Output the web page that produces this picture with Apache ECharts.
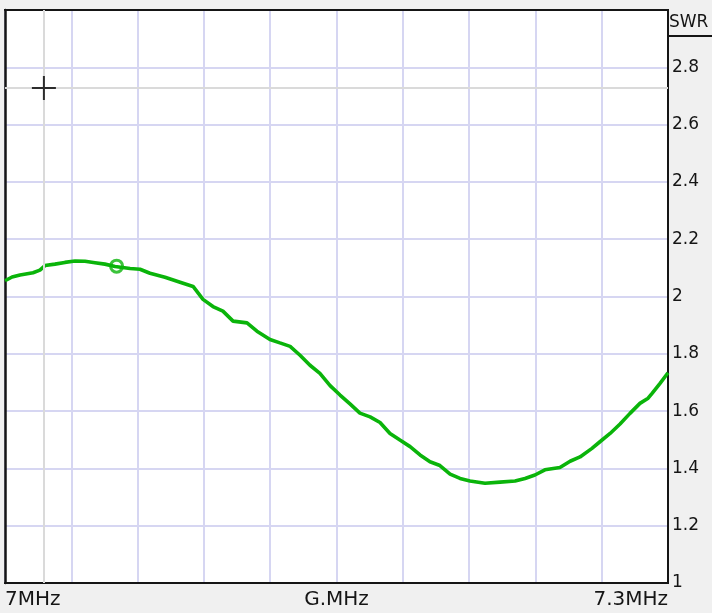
<!DOCTYPE html>
<html>
<head>
<meta charset="utf-8">
<script src="https://cdn.jsdelivr.net/npm/echarts@6/dist/echarts.min.js"></script>
<style>
  html, body { margin: 0; padding: 0; background: #f0f0f0; }
  #chart { width: 712px; height: 613px; }
</style>
</head>
<body>
<div id="chart"></div>
<script>
// SWR sweep across the 40 m band (frequency in MHz, SWR ratio)
const freqMHz = [
  7.0000, 7.0032, 7.0068, 7.0127, 7.0158, 7.0181, 7.0226, 7.0271, 7.0317, 7.0362,
  7.0407, 7.0452, 7.0498, 7.0566, 7.0611, 7.0656, 7.0724, 7.0792, 7.0851, 7.0896,
  7.0941, 7.0986, 7.1032, 7.1095, 7.1140, 7.1199, 7.1244, 7.1290, 7.1335, 7.1380,
  7.1425, 7.1471, 7.1516, 7.1561, 7.1606, 7.1652, 7.1697, 7.1742, 7.1787, 7.1833,
  7.1878, 7.1923, 7.1968, 7.2014, 7.2059, 7.2104, 7.2172, 7.2240, 7.2308, 7.2353,
  7.2398, 7.2443, 7.2511, 7.2557, 7.2602, 7.2656, 7.2692, 7.2738, 7.2783, 7.2828,
  7.2873, 7.2910, 7.2928, 7.2964, 7.3000
];
const swrValues = [
  2.055, 2.068, 2.075, 2.083, 2.092, 2.108, 2.113, 2.119, 2.124, 2.123,
  2.118, 2.113, 2.105, 2.098, 2.095, 2.081, 2.067, 2.050, 2.035, 1.990,
  1.965, 1.949, 1.914, 1.908, 1.879, 1.850, 1.838, 1.826, 1.795, 1.760,
  1.732, 1.689, 1.656, 1.625, 1.593, 1.580, 1.560, 1.522, 1.499, 1.476,
  1.447, 1.423, 1.410, 1.380, 1.365, 1.356, 1.348, 1.352, 1.356, 1.365,
  1.377, 1.395, 1.403, 1.425, 1.440, 1.470, 1.493, 1.522, 1.555, 1.592,
  1.627, 1.645, 1.662, 1.697, 1.734
];

// Marker on the trace and the cross cursor
const markerPoint = [7.0505, 2.106];
const cursorPoint = [7.0176, 2.728];

// Axis labels
const xLabelFreq = [7.0, 7.15, 7.3];
const xLabelText = ['7MHz', 'G.MHz', '7.3MHz'];
const yAxisTitle = 'SWR';

const BASE_MHZ = 7.0;
const toKHz = f => Math.round((f - BASE_MHZ) * 10000) / 10;

const GREEN = '#0ab40a';
const GRID_LAVENDER = '#d6d6f2';
const CURSOR_GREY = '#dadada';
const INK = '#151515';

const frameAxis = {
  axisLine: { show: true, onZero: false, lineStyle: { color: INK, width: 2 } },
  axisTick: { show: false },
  axisLabel: { show: false },
  splitLine: { show: false }
};

const chart = echarts.init(document.getElementById('chart'), null, { renderer: 'canvas' });

chart.setOption({
  animation: false,
  backgroundColor: '#f0f0f0',
  grid: {
    left: 5, top: 10, right: 44, bottom: 30,
    show: true,
    backgroundColor: '#ffffff',
    borderColor: INK,
    borderWidth: 2
  },
  xAxis: [
    {
      type: 'value',
      min: 0,
      max: 300,
      interval: 30,
      axisLine: { show: true, onZero: false, lineStyle: { color: INK, width: 2 } },
      axisTick: { show: false },
      splitLine: { show: true, lineStyle: { color: GRID_LAVENDER, width: 2 } },
      axisLabel: {
        margin: 7,
        fontFamily: 'DejaVu Sans',
        fontSize: 20,
        color: INK,
        alignMinLabel: 'left',
        alignMaxLabel: 'right',
        formatter: v => {
          const i = xLabelFreq.findIndex(f => Math.abs(toKHz(f) - v) < 0.01);
          return i >= 0 ? xLabelText[i] : '';
        }
      }
    },
    Object.assign({ type: 'value', position: 'top', min: 0, max: 300 }, frameAxis)
  ],
  yAxis: [
    {
      type: 'value',
      position: 'right',
      min: 1,
      max: 3,
      interval: 0.2,
      axisLine: { show: true, onZero: false, lineStyle: { color: INK, width: 2 } },
      axisTick: { show: false },
      splitLine: { show: true, lineStyle: { color: GRID_LAVENDER, width: 2 } },
      axisLabel: {
        margin: 4,
        fontFamily: 'DejaVu Sans',
        fontSize: 17,
        color: INK,
        formatter: v => (v > 2.99 ? '' : String(+v.toFixed(1)))
      }
    },
    Object.assign({ type: 'value', position: 'left', min: 1, max: 3 }, frameAxis, {
      axisLine: { show: true, onZero: false, lineStyle: { color: INK, width: 2.5 } }
    })
  ],
  series: [
    {
      // cursor cross-hair lines
      type: 'line',
      data: [],
      silent: true,
      markLine: {
        silent: true,
        symbol: 'none',
        label: { show: false },
        lineStyle: { color: CURSOR_GREY, width: 2, type: 'solid' },
        data: [
          { xAxis: toKHz(cursorPoint[0]) },
          { yAxis: cursorPoint[1] }
        ]
      }
    },
    {
      type: 'line',
      data: freqMHz.map((f, i) => [toKHz(f), swrValues[i]]),
      showSymbol: false,
      smooth: false,
      lineStyle: { color: GREEN, width: 3.6 },
      z: 3
    },
    {
      // trace marker
      type: 'scatter',
      data: [[toKHz(markerPoint[0]), markerPoint[1]]],
      symbol: 'circle',
      symbolSize: 12,
      itemStyle: { color: 'rgba(0,0,0,0)', borderColor: GREEN, borderWidth: 3 },
      z: 4
    },
    {
      // cursor cross
      type: 'scatter',
      data: [[toKHz(cursorPoint[0]), cursorPoint[1]]],
      symbol: 'path://M0,11h24v2h-24z M11,0h2v24h-2z',
      symbolSize: 24,
      itemStyle: { color: '#000000' },
      z: 5
    }
  ],
  graphic: [
    {
      type: 'text',
      left: 669,
      top: 14,
      style: { text: yAxisTitle, fontFamily: 'DejaVu Sans', fontSize: 17, fill: INK }
    },
    {
      type: 'line',
      shape: { x1: 668, y1: 36, x2: 712, y2: 36 },
      style: { stroke: INK, lineWidth: 2 }
    }
  ]
});
</script>
</body>
</html>
